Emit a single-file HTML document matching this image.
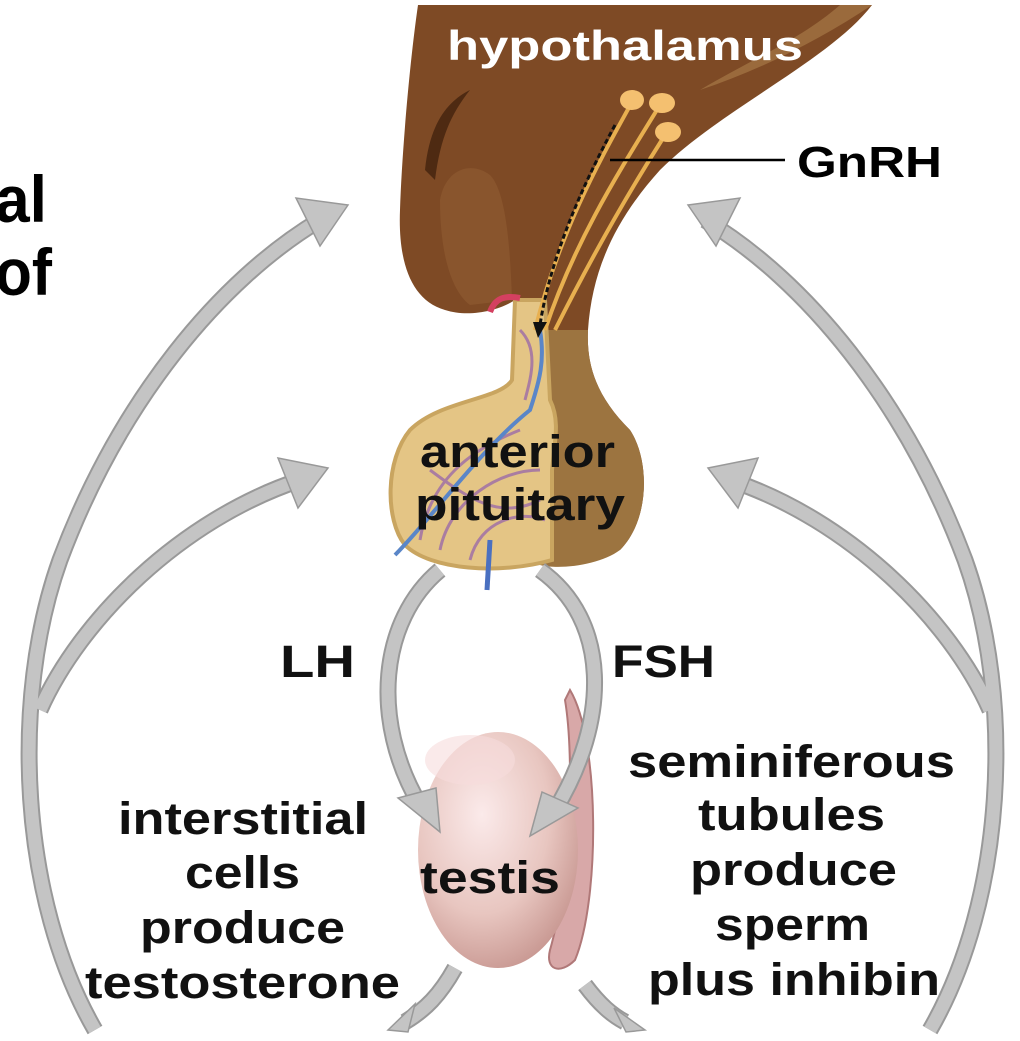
<!DOCTYPE html>
<html><head><meta charset="utf-8"><style>
body{margin:0;background:#fff}
svg text{font-family:"Liberation Sans",Arial,sans-serif;font-weight:bold}
</style></head><body>
<svg width="1020" height="1036" viewBox="0 0 1020 1036" xmlns="http://www.w3.org/2000/svg">
<defs>
<radialGradient id="tg" cx="0.4" cy="0.35" r="0.7"><stop offset="0" stop-color="#fbeaea"/><stop offset="0.6" stop-color="#e8c6c0"/><stop offset="1" stop-color="#c79690"/></radialGradient>
</defs>
<!-- hypothalamus -->
<path d="M418 5 L872 5 C830 60 720 110 660 170 C615 220 592 270 588 330 C586 370 600 400 630 430 C650 460 650 520 620 550 L520 560 L515 300 C500 310 470 318 445 310 C410 300 398 260 400 210 C402 150 410 60 418 5 Z" fill="#7e4a25"/>
<path d="M425 170 C430 120 450 100 470 90 C450 115 440 140 435 180 Z" fill="#4e2a12"/>
<path d="M440 200 C445 170 470 160 490 175 C505 190 510 240 512 300 L470 305 C450 290 440 250 440 200Z" fill="#8e5a30" opacity="0.7"/>
<path d="M700 90 C760 70 820 40 872 5 L840 5 C800 40 750 60 700 90Z" fill="#9a6a3c"/>
<!-- posterior pituitary -->
<path d="M588 330 C586 370 600 400 630 430 C650 460 650 520 620 550 C600 565 560 570 540 565 L540 330 Z" fill="#9c7440"/>
<!-- anterior pituitary -->
<path d="M515 300 L545 300 L550 400 C560 420 555 440 552 470 L552 560 C500 575 430 570 405 545 C385 520 385 460 410 430 C440 400 500 400 512 380 Z" fill="#e4c585" stroke="#c9a560" stroke-width="4"/>
<g stroke="#9b6aa8" stroke-width="3" fill="none" opacity="0.8">
<path d="M420 540 C430 480 470 450 520 430 M440 550 C450 500 500 470 540 470 M430 470 C470 500 500 520 540 500 M520 330 C540 350 530 380 525 400 M470 560 C480 520 520 510 545 520"/>
</g>
<path d="M395 555 C430 520 480 450 530 410 C540 380 545 360 540 330" stroke="#5a86c8" stroke-width="4" fill="none"/>
<path d="M487 590 L490 540" stroke="#4a70c0" stroke-width="5"/>
<path d="M490 312 C495 298 505 295 520 298" stroke="#d44060" stroke-width="6" fill="none"/>
<!-- neurons -->
<g stroke="#e8b050" stroke-width="4" fill="none">
<path d="M632 102 C600 160 560 230 535 330"/><path d="M660 105 C620 170 575 240 545 330"/><path d="M665 135 C630 190 590 260 555 330"/>
</g>
<ellipse cx="632" cy="100" rx="12" ry="10" fill="#f4c070"/><ellipse cx="662" cy="103" rx="13" ry="10" fill="#f4c070"/><ellipse cx="668" cy="132" rx="13" ry="10" fill="#f4c070"/>
<path d="M615 125 C580 190 550 260 540 325" stroke="#111" stroke-width="3" stroke-dasharray="5 3" fill="none"/>
<polygon points="533,322 547,322 538,338" fill="#111"/>
<line x1="610" y1="160" x2="785" y2="160" stroke="#000" stroke-width="2.5"/>
<!-- testis -->
<path d="M570 690 C600 740 600 900 575 960 C560 975 545 970 550 950 C570 880 575 760 565 700Z" fill="#d8a8a8" stroke="#b07878" stroke-width="2"/>
<ellipse cx="498" cy="850" rx="80" ry="118" fill="url(#tg)"/>
<ellipse cx="470" cy="760" rx="45" ry="25" fill="#f6dcdc" opacity="0.6"/>
<!-- arrows -->
<g stroke="#999" stroke-width="17" fill="none">
<path d="M95 1030 C20 900 10 700 60 560 C120 400 220 280 320 220"/>
<path d="M40 710 C80 620 180 520 300 480"/>
<path d="M930 1030 C1005 900 1015 700 965 560 C905 400 805 280 705 220"/>
<path d="M990 710 C950 620 850 520 730 480"/>
<path d="M440 570 C380 620 370 720 420 805"/>
<path d="M540 570 C610 620 610 720 555 810"/>
<path d="M455 968 C440 995 425 1010 405 1022"/>
<path d="M585 985 C600 1005 612 1015 625 1022"/>
</g>
<g stroke="#c4c4c4" stroke-width="13" fill="none">
<path d="M95 1030 C20 900 10 700 60 560 C120 400 220 280 320 220"/>
<path d="M40 710 C80 620 180 520 300 480"/>
<path d="M930 1030 C1005 900 1015 700 965 560 C905 400 805 280 705 220"/>
<path d="M990 710 C950 620 850 520 730 480"/>
<path d="M440 570 C380 620 370 720 420 805"/>
<path d="M540 570 C610 620 610 720 555 810"/>
<path d="M455 968 C440 995 425 1010 405 1022"/>
<path d="M585 985 C600 1005 612 1015 625 1022"/>
</g>
<g fill="#c4c4c4" stroke="#999" stroke-width="1.5">
<polygon points="348,205 296,198 320,246"/>
<polygon points="328,468 278,458 298,508"/>
<polygon points="688,205 740,198 716,246"/>
<polygon points="708,468 758,458 738,508"/>
<polygon points="440,832 398,798 436,788"/>
<polygon points="530,836 542,792 578,808"/>
<polygon points="388,1030 415,1004 408,1032"/>
<polygon points="645,1030 614,1008 626,1032"/>
</g>
<!-- text -->
<text x="447" y="60" font-size="42" fill="#fff" textLength="356" lengthAdjust="spacingAndGlyphs">hypothalamus</text>
<text x="797" y="177" font-size="44" textLength="145" lengthAdjust="spacingAndGlyphs">GnRH</text>
<text x="-5" y="222" font-size="66" textLength="52" lengthAdjust="spacingAndGlyphs">al</text>
<text x="-5" y="295" font-size="66" textLength="57" lengthAdjust="spacingAndGlyphs">of</text>
<g font-size="45" fill="#111" lengthAdjust="spacingAndGlyphs">
<text x="420" y="467" textLength="195" lengthAdjust="spacingAndGlyphs">anterior</text>
<text x="415" y="520" textLength="210" lengthAdjust="spacingAndGlyphs">pituitary</text>
<text x="280" y="677" textLength="75" lengthAdjust="spacingAndGlyphs">LH</text>
<text x="612" y="677" textLength="103" lengthAdjust="spacingAndGlyphs">FSH</text>
<text x="118" y="834" textLength="250" lengthAdjust="spacingAndGlyphs">interstitial</text>
<text x="185" y="888" textLength="115" lengthAdjust="spacingAndGlyphs">cells</text>
<text x="140" y="943" textLength="205" lengthAdjust="spacingAndGlyphs">produce</text>
<text x="85" y="998" textLength="315" lengthAdjust="spacingAndGlyphs">testosterone</text>
<text x="420" y="893" textLength="140" lengthAdjust="spacingAndGlyphs">testis</text>
<text x="628" y="777" textLength="327" lengthAdjust="spacingAndGlyphs">seminiferous</text>
<text x="698" y="830" textLength="187" lengthAdjust="spacingAndGlyphs">tubules</text>
<text x="690" y="885" textLength="207" lengthAdjust="spacingAndGlyphs">produce</text>
<text x="715" y="940" textLength="155" lengthAdjust="spacingAndGlyphs">sperm</text>
<text x="648" y="995" textLength="292" lengthAdjust="spacingAndGlyphs">plus inhibin</text>
</g>
</svg>
</body></html>
